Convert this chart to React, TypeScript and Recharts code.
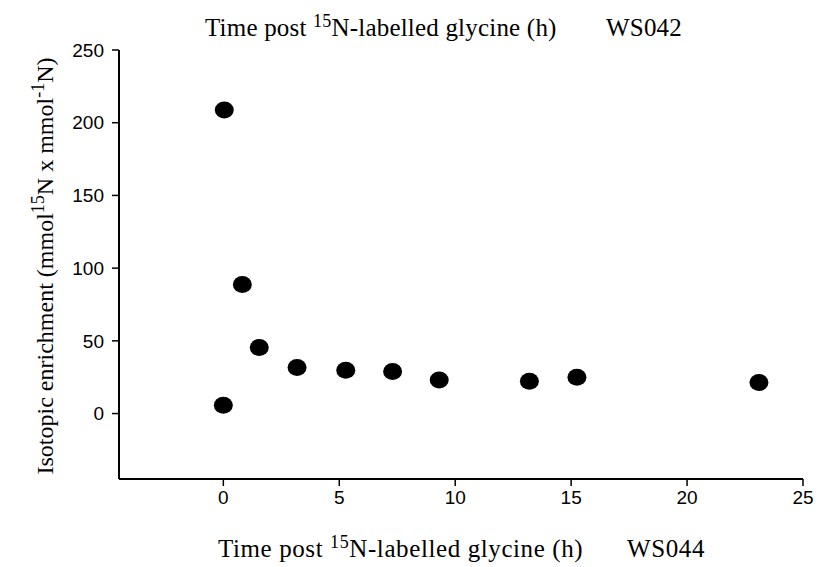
import React from 'react';
import { ScatterChart, Scatter, XAxis, YAxis } from 'recharts';

// hours after the 15N-glycine dose
const timeHours = [0, 0.04, 0.82, 1.55, 3.18, 5.28, 7.3, 9.31, 13.2, 15.25, 23.1];
// isotopic enrichment at each time point
const enrichment = [5.7, 208.8, 88.8, 45.4, 31.7, 29.8, 28.9, 23.1, 22.2, 25.0, 21.3];

const xTicks = [0, 5, 10, 15, 20, 25];
const yTicks = [0, 50, 100, 150, 200, 250];

const points = timeHours.map((t, i) => ({ x: t, y: enrichment[i] }));

const serif = '"Liberation Serif", "Times New Roman", serif';
const sans = '"Liberation Sans", Arial, sans-serif';

const Dot = (props: any) => {
  const { cx, cy } = props;
  if (cx == null || cy == null) return null;
  return <ellipse cx={cx} cy={cy} rx={9.5} ry={8.5} fill="#000" />;
};

function Title(props: { x: number; y: number; tag: string; tagX: number; spacing: number }) {
  const { x, y, tag, tagX, spacing } = props;
  return (
    <text x={x} y={y} fontFamily={serif} fontSize={25} letterSpacing={spacing} fill="#000">
      Time post{' '}
      <tspan dy={-9} fontSize={18}>15</tspan>
      <tspan dy={9}>N-labelled glycine (h)</tspan>
      <tspan x={tagX}>{tag}</tspan>
    </text>
  );
}

export default function App() {
  const tick = { fill: '#000', fontSize: 19, fontFamily: sans };
  return (
    <div style={{ position: 'absolute', left: 0, top: 0, width: 819, height: 567, background: '#fff' }}>
      <ScatterChart width={819} height={567} margin={{ top: 50, right: 16, bottom: 58, left: 59 }}>
        <XAxis
          type="number"
          dataKey="x"
          domain={[-4.5, 25]}
          ticks={xTicks}
          allowDataOverflow
          height={30}
          tick={tick}
          tickSize={7}
          tickMargin={5}
          axisLine={{ stroke: '#000', strokeWidth: 2 }}
          tickLine={{ stroke: '#000', strokeWidth: 1.5 }}
        />
        <YAxis
          type="number"
          dataKey="y"
          domain={[-45, 250]}
          ticks={yTicks}
          allowDataOverflow
          width={60}
          tick={tick}
          tickSize={7}
          tickMargin={8}
          axisLine={{ stroke: '#000', strokeWidth: 2 }}
          tickLine={{ stroke: '#000', strokeWidth: 1.5 }}
        />
        <Scatter data={points} shape={Dot} isAnimationActive={false} />
      </ScatterChart>
      <svg
        width={819}
        height={567}
        style={{ position: 'absolute', left: 0, top: 0, pointerEvents: 'none' }}
      >
        <Title x={205} y={36} tag="WS042" tagX={606} spacing={0.2} />
        <Title x={218} y={557} tag="WS044" tagX={627} spacing={0.6} />
        <text
          transform="translate(53, 266) rotate(-90)"
          textAnchor="middle"
          fontFamily={serif}
          fontSize={24}
          fill="#000"
        >
          Isotopic enrichment (mmol
          <tspan dy={-9} fontSize={18}>15</tspan>
          <tspan dy={9}>N x mmol</tspan>
          <tspan dy={-9} fontSize={18}>-1</tspan>
          <tspan dy={9}>N)</tspan>
        </text>
      </svg>
    </div>
  );
}
